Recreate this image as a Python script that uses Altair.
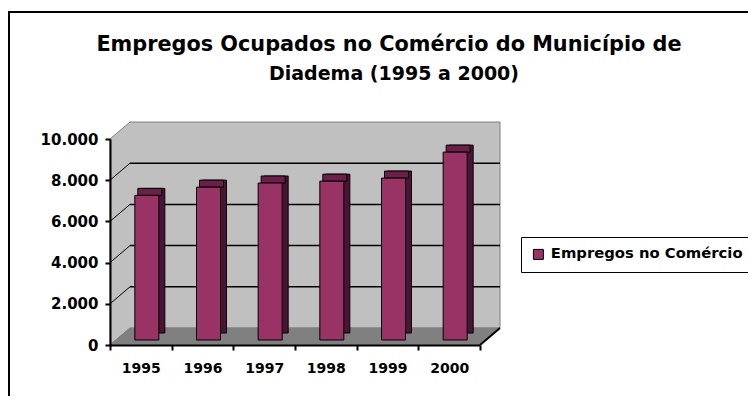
import altair as alt
import pandas as pd

# ---- data ----
anos = ["1995", "1996", "1997", "1998", "1999", "2000"]
empregos = [7020, 7420, 7620, 7710, 7860, 9120]
serie = "Empregos no Comércio"
y_ticks = [0, 2000, 4000, 6000, 8000, 10000]
titulo = ["Empregos Ocupados no Comércio do Município de", "Diadema (1995 a 2000)"]

# ---- geometry / style constants ----
W, H = 370, 206
YMAX = 10000
N = len(anos)
DEPTH_X, DEPTH_Y = 20, 17          # 3D depth of the walls in px
DU = DEPTH_X / W * N               # depth expressed in x units
DV = DEPTH_Y / H * YMAX            # depth expressed in y units
FONT = "DejaVu Sans"
PLUM, PLUM_TOP, PLUM_SIDE = "#993366", "#6B2049", "#4A1535"
WALL, FLOOR, EDGE = "#C0C0C0", "#808080", "#808080"

bars = pd.DataFrame({"ano": anos, "valor": empregos, "serie": serie})
one = pd.DataFrame({"k": [0]})
wall = pd.DataFrame({"u": [0, DU, N + DU], "v": [YMAX, YMAX + DV, YMAX + DV], "v2": [0, DV, DV]})
floor = pd.DataFrame({"u": [0, DU, N, N + DU], "v": [0, DV, DV, DV], "v2": [0, 0, 0, DV]})
grid = pd.DataFrame({"t": y_ticks[1:-1]})
grid["tb"] = grid["t"] + DV

ys = alt.Scale(domain=[0, YMAX], nice=False, zero=True)
us = alt.Scale(domain=[0, N], nice=False, zero=False)

border = alt.Chart(one).mark_rect(fill=None, stroke="black", strokeWidth=2).encode(
    x=alt.value(-101), x2=alt.value(900), y=alt.value(-127), y2=alt.value(600)
)

title1 = alt.Chart(one).mark_text(
    text=titulo[0], font=FONT, fontSize=20.8, fontWeight="bold", color="black",
    align="center", baseline="middle",
).encode(x=alt.value(279), y=alt.value(-94))
title2 = alt.Chart(one).mark_text(
    text=titulo[1], font=FONT, fontSize=19, fontWeight="bold", color="black",
    align="center", baseline="middle",
).encode(x=alt.value(284), y=alt.value(-65))

wall_l = alt.Chart(wall).mark_area(color=WALL, stroke=EDGE, strokeWidth=1).encode(
    x=alt.X("u:Q", scale=us, axis=None),
    y=alt.Y("v:Q", scale=ys, axis=None),
    y2="v2:Q",
)
floor_l = alt.Chart(floor).mark_area(color=FLOOR, stroke=FLOOR, strokeWidth=1).encode(
    x=alt.X("u:Q", scale=us, axis=None),
    y=alt.Y("v:Q", scale=ys, axis=None),
    y2="v2:Q",
)
grid_back = alt.Chart(grid).mark_rule(color="black", strokeWidth=1.5).encode(
    x=alt.X(datum=DU, scale=us, axis=None),
    x2=alt.X2(datum=N + DU),
    y=alt.Y("tb:Q", scale=ys, axis=None),
)
grid_side = alt.Chart(grid).mark_rule(color="black", strokeWidth=1).encode(
    x=alt.X(datum=0, scale=us, axis=None),
    x2=alt.X2(datum=DU),
    y=alt.Y("t:Q", scale=ys, axis=None),
    y2="tb:Q",
)
right_edge = alt.Chart(one).mark_rule(color="black", strokeWidth=2).encode(
    x=alt.X(datum=N, scale=us, axis=None),
    x2=alt.X2(datum=N + DU),
    y=alt.Y(datum=0, scale=ys, axis=None),
    y2=alt.Y2(datum=DV),
)

band = alt.Scale(paddingInner=0, paddingOuter=0)

side = alt.Chart(bars).mark_bar(size=24, xOffset=12, yOffset=-12, y2Offset=-12,
                                fill=PLUM_SIDE, stroke="black", strokeWidth=1).encode(
    x=alt.X("ano:N", scale=band, axis=None),
    y=alt.Y("valor:Q", scale=ys, axis=None),
)
top = alt.Chart(bars).mark_bar(size=24, xOffset=9, yOffset=-12, y2Offset=-5,
                               fill=PLUM_TOP, stroke="black", strokeWidth=1).encode(
    x=alt.X("ano:N", scale=band, axis=None),
    y=alt.Y("valor:Q", scale=ys, axis=None),
    y2="valor:Q",
)
front = alt.Chart(bars).mark_bar(size=24, xOffset=6, yOffset=-5, y2Offset=-5,
                                 stroke="black", strokeWidth=1).encode(
    x=alt.X("ano:N", scale=band, title=None,
            axis=alt.Axis(labelAngle=0, tickBand="extent", tickSize=5, tickColor="black",
                          tickWidth=2, domainColor="black", domainWidth=2,
                          labelFont=FONT, labelFontSize=14, labelFontWeight="bold",
                          labelColor="black", labelPadding=11, zindex=1)),
    y=alt.Y("valor:Q", scale=ys, title=None,
            axis=alt.Axis(values=y_ticks, grid=False, tickSize=5, tickColor="black",
                          tickWidth=2, domainColor="black", domainWidth=2,
                          labelExpr="replace(format(datum.value, ','), ',', '.')",
                          labelFont=FONT, labelFontSize=15, labelFontWeight="bold",
                          labelColor="black", labelPadding=7, zindex=1)),
    color=alt.Color("serie:N", scale=alt.Scale(range=[PLUM]),
                    legend=alt.Legend(title=None, orient="none", legendX=411, legendY=98,
                                      padding=10, strokeColor="black", fillColor="white",
                                      symbolType="square", symbolSize=100,
                                      symbolStrokeColor="black", symbolStrokeWidth=1,
                                      labelFont=FONT, labelFontSize=14.8, labelLimit=400,
                                      labelFontWeight="bold", labelColor="black",
                                      labelOffset=5)),
)

chart = alt.layer(
    border, title1, title2, wall_l, floor_l, grid_back, grid_side, right_edge, side, top, front
).resolve_scale(x="independent", y="independent").properties(
    width=W, height=H,
    autosize=alt.AutoSizeParams(type="none"),
    padding={"left": 102, "top": 131, "right": 268, "bottom": 51},
    background="white",
).configure_view(stroke=None)

chart.save("out.html", embed_options={"renderer": "svg", "actions": False})
